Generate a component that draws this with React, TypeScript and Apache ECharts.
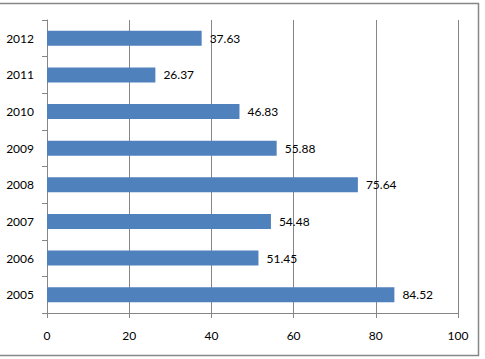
import React, { useEffect, useRef } from "react";
import * as echarts from "echarts";

const categories = ["2005", "2006", "2007", "2008", "2009", "2010", "2011", "2012"];
const values = [84.52, 51.45, 54.48, 75.64, 55.88, 46.83, 26.37, 37.63];
const xTicks = [0, 20, 40, 60, 80, 100];

export default function App() {
  const ref = useRef<HTMLDivElement>(null);
  useEffect(() => {
    document.body.style.margin = "0";
    const chart = echarts.init(ref.current!, null, { renderer: "svg" });
    const font = "Lato, 'Open Sans', sans-serif";
    chart.setOption({
      animation: false,
      backgroundColor: "#ffffff",
      graphic: [
        {
          type: "rect",
          shape: { x: -2, y: 3.5, width: 480.5, height: 352 },
          style: { fill: "none", stroke: "#868686", lineWidth: 1.5 },
          silent: true,
        },
      ],
      grid: { left: 47, right: 27, top: 20, bottom: 46 },
      xAxis: {
        type: "value",
        min: xTicks[0],
        max: xTicks[xTicks.length - 1],
        interval: 20,
        axisLine: { show: true, lineStyle: { color: "#868686", width: 1 } },
        axisTick: { show: true, length: 5, lineStyle: { color: "#868686" } },
        splitLine: { show: true, lineStyle: { color: "#868686", width: 1 } },
        axisLabel: { color: "#000", fontSize: 12, fontFamily: font, margin: 16 },
      },
      yAxis: {
        type: "category",
        data: categories,
        boundaryGap: true,
        axisLine: { show: true, lineStyle: { color: "#868686", width: 1 } },
        axisTick: { show: true, length: 5, alignWithLabel: false, lineStyle: { color: "#868686" } },
        axisLabel: { color: "#000", fontSize: 12, fontFamily: font, margin: 13 },
      },
      series: [
        {
          type: "bar",
          data: values,
          barWidth: 15,
          itemStyle: { color: "#4F81BD" },
          label: {
            show: true,
            position: "right",
            distance: 8,
            color: "#000",
            fontSize: 12,
            fontFamily: font,
            formatter: (p: any) => p.value.toFixed(2),
          },
        },
      ],
    });
    return () => chart.dispose();
  }, []);
  return <div ref={ref} style={{ width: 485, height: 359 }} />;
}
